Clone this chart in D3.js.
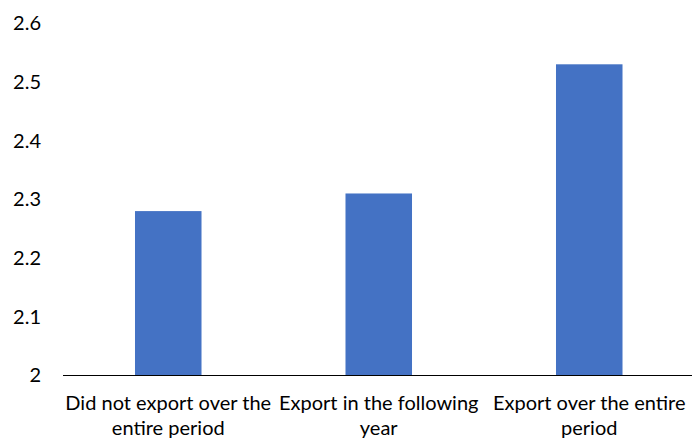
<!DOCTYPE html>
<html>
<head>
<meta charset="utf-8">
<script src="https://cdn.jsdelivr.net/npm/d3@7"></script>
<style>
  body { margin: 0; background: #fff; }
  text { font-family: Lato, "Open Sans", sans-serif; fill: #000; }
</style>
</head>
<body>
<svg id="chart" width="692" height="439"></svg>
<script>
const categories = [
  [ "Did not export over the", "entire period" ],
  [ "Export in the following", "year" ],
  [ "Export over the entire", "period" ]
];
const values = [ 2.28, 2.31, 2.53 ];
const yTicks = [ 2, 2.1, 2.2, 2.3, 2.4, 2.5, 2.6 ];

const svg = d3.select( "#chart" );

const plotLeft = 63, plotRight = 694.5, plotTop = 23.2, plotBottom = 375.5;

const x = d3.scaleBand()
  .domain( d3.range( categories.length ) )
  .range( [ plotLeft, plotRight ] )
  .paddingInner( 0.684 )
  .paddingOuter( 0.342 );

const y = d3.scaleLinear()
  .domain( [ 2, 2.6 ] )
  .range( [ plotBottom, plotTop ] );

// bars
svg.selectAll( "rect.bar" )
  .data( values )
  .enter().append( "rect" )
    .attr( "class", "bar" )
    .attr( "x", ( d, i ) => x( i ) )
    .attr( "y", d => y( d ) )
    .attr( "width", x.bandwidth() )
    .attr( "height", d => y( 2 ) - y( d ) )
    .attr( "fill", "#4472C4" );

// y axis labels only
const yAxis = svg.append( "g" )
  .attr( "transform", "translate(41,0)" )
  .call( d3.axisLeft( y ).tickValues( yTicks ).tickSize( 0 ).tickPadding( 0 ).tickFormat( d3.format( "" ) ) );

yAxis.select( ".domain" ).remove();
yAxis.selectAll( "text" )
  .style( "font-family", "Lato, 'Open Sans', sans-serif" )
  .style( "font-size", "20px" )
  .attr( "fill", "#000" );

// x axis line
svg.append( "line" )
  .attr( "x1", plotLeft )
  .attr( "x2", 692 )
  .attr( "y1", y( 2 ) )
  .attr( "y2", y( 2 ) )
  .attr( "stroke", "#000" )
  .attr( "stroke-width", 1 );

// category labels
const labels = svg.selectAll( "text.cat" )
  .data( categories )
  .enter().append( "text" )
    .attr( "class", "cat" )
    .attr( "text-anchor", "middle" )
    .style( "font-size", "20px" );

labels.selectAll( "tspan" )
  .data( ( d, i ) => d.map( t => ( { t: t, i: i } ) ) )
  .enter().append( "tspan" )
    .attr( "x", d => x( d.i ) + x.bandwidth() / 2 )
    .attr( "y", ( d, j ) => 410 + j * 25 )
    .text( d => d.t );
</script>
</body>
</html>
